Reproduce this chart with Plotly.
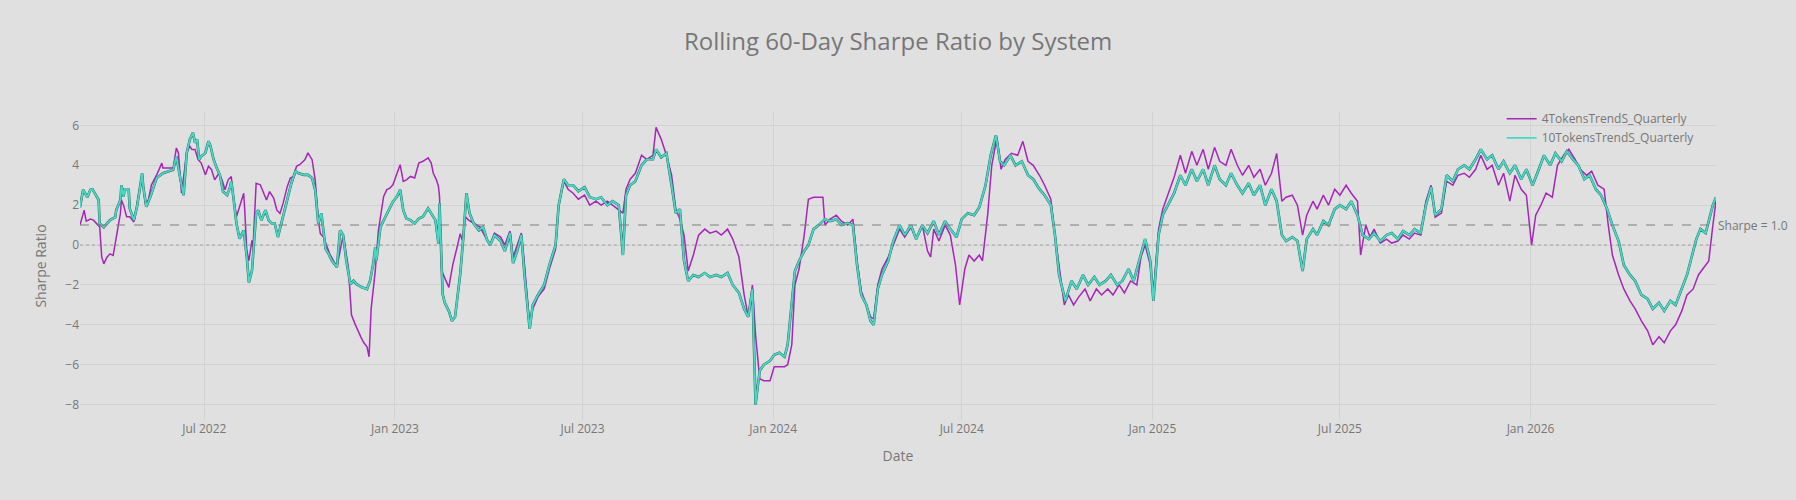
import pandas as pd
import plotly.graph_objects as go

BASE_DATE = "2022-03-03"

# 4TokensTrendS_Quarterly : day offset from BASE_DATE, rolling Sharpe value
days_4tok = [0, 4, 6, 10, 13, 16, 19, 21, 23, 26, 29, 32, 35, 37, 39, 40, 42, 45, 48, 52, 55, 58, 60, 63,
             66, 69, 74, 79, 80, 85, 90, 93, 95, 98, 103, 106, 108, 111, 114, 117, 121, 124, 127, 130,
             134, 137, 140, 143, 146, 148, 151, 154, 158, 159, 161, 163, 166, 167, 170, 174, 177, 180,
             183, 187, 190, 193, 196, 200, 203, 206, 209, 212, 217, 220, 224, 227, 230, 232, 235, 241,
             248, 254, 259, 262, 265, 268, 271, 274, 277, 279, 281, 285, 288, 293, 296, 299, 302, 306,
             309, 312, 315, 319, 323, 327, 331, 336, 339, 341, 344, 346, 347, 349, 352, 356, 357, 360,
             364, 367, 369, 372, 375, 380, 386, 393, 396, 400, 406, 410, 415, 418, 422, 426, 429, 434,
             437, 442, 448, 453, 459, 462, 467, 471, 476, 481, 487, 492, 498, 503, 509, 514, 520, 524,
             527, 531, 536, 542, 547, 553, 556, 561, 566, 571, 575, 579, 583, 587, 592, 597, 603, 608,
             614, 619, 625, 630, 636, 641, 645, 649, 652, 656, 660, 666, 670, 675, 680, 683, 687, 690,
             694, 699, 703, 708, 713, 717, 719, 724, 730, 735, 741, 746, 750, 754, 759, 763, 766, 770,
             774, 780, 785, 791, 796, 802, 807, 813, 818, 821, 824, 829, 835, 840, 845, 849, 854, 858,
             863, 868, 871, 876, 880, 885, 889, 893, 899, 905, 910, 915, 920, 926, 931, 937, 941, 945,
             950, 954, 959, 964, 970, 975, 981, 986, 992, 997, 1003, 1008, 1014, 1020, 1024, 1028, 1033,
             1036, 1041, 1045, 1050, 1056, 1062, 1067, 1073, 1078, 1084, 1089, 1095, 1100, 1106, 1111,
             1117, 1122, 1128, 1133, 1139, 1144, 1150, 1155, 1160, 1164, 1170, 1175, 1180, 1184, 1190,
             1194, 1200, 1205, 1211, 1216, 1222, 1227, 1233, 1236, 1241, 1245, 1249, 1255, 1261, 1266,
             1272, 1277, 1283, 1288, 1294, 1299, 1304, 1308, 1314, 1319, 1325, 1330, 1336, 1341, 1347,
             1352, 1358, 1363, 1369, 1374, 1380, 1385, 1391, 1396, 1401, 1405, 1410, 1415, 1421, 1426,
             1432, 1437, 1443, 1448, 1454, 1459, 1465, 1471, 1475, 1479, 1485, 1490, 1496, 1501, 1507,
             1513, 1518, 1524, 1529, 1535, 1540, 1546, 1551, 1557, 1562, 1568, 1572, 1576, 1579]
vals_4tok = [1.0, 1.75, 1.2, 1.3, 1.25, 1.08, 0.91, -0.61, -0.94, -0.61, -0.44, -0.52, 0.4, 1.16, 1.59,
             2.26, 2.0, 1.42, 1.42, 1.16, 2.09, 2.93, 3.52, 2.09, 2.26, 3.02, 3.52, 4.11, 3.86, 3.86,
             3.86, 4.87, 4.62, 2.6, 4.62, 4.96, 4.79, 4.79, 4.28, 4.11, 3.52, 3.95, 3.78, 3.27, 3.6,
             3.27, 2.77, 3.27, 3.44, 2.43, 1.42, 1.92, 2.6, 1.75, -0.27, -0.78, 0.24, -0.1, 3.1, 3.02,
             2.6, 2.26, 2.68, 2.34, 1.75, 1.59, 2.09, 2.93, 3.36, 3.44, 3.95, 4.03, 4.28, 4.62, 4.28,
             3.27, 1.25, 0.57, 0.4, -0.44, -1.11, 0.49, -1.11, -3.5, -3.9, -4.3, -4.6, -4.9, -5.1,
             -5.6, -3.2, -1.28, 0.74, 2.43, 2.77, 2.85, 3.02, 3.6, 4.03, 3.19, 3.27, 3.44, 3.36, 4.11,
             4.2, 4.37, 4.11, 3.6, 3.27, 2.93, 2.43, -1.28, -1.62, -2.12, -1.79, -0.94, -0.1, 0.57,
             0.24, 1.42, 1.25, 1.08, 0.91, 0.24, 0.0, 0.6, 0.4, 0.0, 0.7, -0.6, 0.0, 0.6, -1.0, -4.0,
             -3.2, -2.6, -2.2, -1.2, -0.2, 2.0, 3.2, 2.8, 2.6, 2.3, 2.5, 2.0, 2.2, 2.0, 2.2, 2.0, 1.8,
             1.6, 2.8, 3.3, 3.6, 4.5, 4.3, 4.5, 5.9, 5.3, 4.5, 3.5, 1.8, 1.3, 0.5, -1.3, -0.5, 0.5,
             0.8, 0.6, 0.7, 0.5, 0.8, 0.3, -0.6, -2.5, -3.6, -2.0, -4.5, -6.7, -6.8, -6.8, -6.1, -6.1,
             -6.1, -6.0, -5.0, -2.0, -1.2, 0.5, 2.3, 2.4, 2.4, 2.4, 1.0, 1.3, 1.5, 1.2, 1.0, 1.3, -0.8,
             -2.3, -3.0, -3.6, -3.7, -2.0, -1.2, -0.6, 0.0, 0.8, 0.4, 0.9, 0.3, 1.0, -0.3, -0.6, 0.8,
             0.2, 1.0, 0.5, -1.0, -3.0, -1.2, -0.5, -0.8, -0.5, -0.8, 1.5, 4.0, 5.4, 3.8, 4.3, 4.6,
             4.5, 5.2, 4.2, 4.0, 3.5, 3.0, 2.3, 0.5, -1.0, -3.0, -2.5, -3.0, -2.6, -2.2, -2.8, -2.2,
             -2.5, -2.2, -2.5, -2.0, -2.4, -1.8, -2.0, -0.6, 0.0, -1.0, -2.5, 0.8, 1.8, 2.5, 3.4, 4.5,
             3.6, 4.7, 4.0, 4.8, 3.8, 4.9, 4.2, 4.0, 4.8, 4.0, 3.5, 4.0, 3.4, 3.8, 3.0, 3.6, 4.6, 2.2,
             2.4, 2.5, 2.0, 0.5, 1.5, 2.2, 1.8, 2.5, 2.0, 2.8, 2.5, 3.0, 2.6, 2.2, -0.5, 1.0, 0.4, 0.8,
             0.1, 0.3, 0.1, 0.2, 0.5, 0.3, 0.6, 0.5, 2.2, 3.0, 1.4, 1.6, 3.2, 3.0, 3.5, 3.6, 3.4, 3.8,
             4.5, 3.8, 4.0, 3.0, 3.6, 2.2, 3.5, 2.8, 2.5, 0.0, 1.5, 2.0, 2.6, 2.4, 4.0, 4.5, 4.8, 4.3,
             3.8, 3.5, 3.7, 3.0, 2.8, 1.0, -0.5, -1.5, -2.2, -2.8, -3.2, -3.8, -4.3, -5.0, -4.6, -4.9,
             -4.3, -4.0, -3.3, -2.5, -2.2, -1.5, -1.1, -0.8, 1.0, 2.2]

# 10TokensTrendS_Quarterly : day offset from BASE_DATE, rolling Sharpe value
days_10tok = [0, 3, 7, 10, 12, 15, 18, 19, 23, 29, 34, 35, 39, 40, 42, 43, 47, 48, 52, 55, 58, 60, 61,
              64, 68, 71, 74, 80, 87, 90, 93, 95, 97, 100, 103, 106, 109, 111, 113, 115, 117, 121, 124,
              126, 129, 132, 135, 138, 142, 145, 146, 148, 151, 154, 158, 161, 163, 166, 167, 170, 172,
              175, 179, 182, 185, 188, 191, 195, 198, 201, 204, 208, 211, 216, 220, 224, 227, 230, 233,
              237, 240, 243, 248, 251, 254, 257, 261, 264, 267, 272, 277, 280, 283, 285, 286, 290, 293,
              296, 299, 302, 306, 309, 312, 315, 319, 323, 327, 331, 336, 339, 343, 346, 347, 350, 352,
              356, 359, 362, 364, 367, 370, 373, 376, 380, 385, 389, 393, 396, 400, 406, 410, 415, 418,
              422, 426, 429, 434, 437, 442, 448, 453, 459, 462, 467, 471, 476, 481, 487, 492, 498, 503,
              509, 514, 520, 524, 527, 531, 536, 542, 547, 553, 556, 561, 566, 571, 575, 579, 583, 587,
              592, 597, 603, 608, 614, 619, 625, 630, 636, 641, 645, 649, 652, 656, 660, 666, 670, 675,
              680, 683, 687, 690, 694, 699, 703, 708, 713, 719, 724, 730, 735, 741, 746, 750, 754, 759,
              763, 766, 770, 774, 780, 785, 791, 796, 802, 807, 813, 818, 824, 829, 835, 840, 846, 851,
              857, 863, 868, 874, 879, 884, 888, 892, 898, 903, 909, 915, 920, 926, 931, 937, 941, 945,
              951, 957, 962, 968, 973, 979, 984, 990, 995, 1001, 1006, 1012, 1017, 1023, 1028, 1033,
              1036, 1041, 1045, 1050, 1056, 1062, 1067, 1073, 1078, 1084, 1089, 1095, 1100, 1106, 1111,
              1117, 1122, 1128, 1133, 1139, 1144, 1150, 1155, 1160, 1164, 1170, 1175, 1180, 1184, 1190,
              1194, 1200, 1205, 1211, 1216, 1222, 1227, 1233, 1238, 1244, 1249, 1255, 1261, 1266, 1272,
              1277, 1283, 1288, 1294, 1299, 1304, 1308, 1314, 1319, 1325, 1330, 1336, 1341, 1347, 1352,
              1358, 1363, 1369, 1374, 1380, 1385, 1391, 1396, 1402, 1408, 1413, 1419, 1424, 1430, 1435,
              1441, 1446, 1452, 1457, 1463, 1468, 1474, 1479, 1485, 1490, 1496, 1501, 1507, 1513, 1518,
              1524, 1529, 1535, 1540, 1546, 1551, 1556, 1560, 1564, 1569, 1572, 1576, 1579]
vals_10tok = [1.9, 2.77, 2.4, 2.77, 2.8, 2.5, 2.26, 1.08, 0.9, 1.25, 1.4, 1.75, 2.26, 3.0, 2.43, 2.77,
              2.77, 1.84, 1.25, 1.92, 2.93, 3.6, 2.93, 1.92, 2.43, 2.93, 3.36, 3.6, 3.7, 3.78, 4.45,
              3.95, 3.27, 2.5, 4.62, 5.3, 5.63, 5.13, 5.3, 4.28, 4.45, 4.62, 5.21, 4.96, 4.28, 3.86,
              3.52, 2.68, 2.51, 2.93, 3.19, 2.43, 1.08, 0.32, 0.74, -0.61, -1.87, -1.28, -0.44, 1.59,
              1.75, 1.25, 1.75, 1.25, 1.08, 1.08, 0.4, 1.25, 1.92, 2.43, 3.1, 3.7, 3.6, 3.52, 3.52,
              3.36, 2.77, 1.08, 1.59, -0.19, -0.44, -0.78, -1.11, 0.74, 0.49, -0.78, -1.96, -1.79,
              -1.96, -2.12, -2.21, -1.79, -0.94, -0.1, -0.78, 0.91, 1.25, 1.59, 1.92, 2.18, 2.43, 2.77,
              1.75, 1.33, 1.25, 1.08, 1.33, 1.42, 1.84, 1.59, 1.25, 0.07, 2.09, -2.46, -2.88, -3.31,
              -3.8, -3.6, -2.8, -1.45, 0.4, 2.6, 1.59, 1.08, 0.74, 0.91, 0.24, 0.0, 0.5, 0.2, -0.3, 0.6,
              -0.9, -0.3, 0.5, -1.5, -4.2, -3.0, -2.5, -2.0, -1.0, 0.0, 2.0, 3.3, 3.0, 3.0, 2.7, 2.9,
              2.4, 2.3, 2.4, 2.0, 2.2, 2.0, -0.5, 2.5, 3.0, 3.2, 4.0, 4.3, 4.3, 4.8, 4.4, 4.6, 3.0,
              1.6, 1.8, -0.8, -1.8, -1.5, -1.6, -1.4, -1.6, -1.5, -1.6, -1.4, -2.0, -2.4, -3.2, -3.6,
              -2.2, -8.0, -6.3, -6.0, -5.8, -5.5, -5.4, -5.6, -5.0, -3.0, -1.3, -0.8, -0.3, 0.0, 0.8,
              1.0, 1.3, 1.2, 1.3, 1.0, 1.1, 1.0, -1.0, -2.5, -3.0, -3.8, -4.0, -2.2, -1.5, -0.8, 0.2,
              1.0, 0.5, 1.0, 0.3, 1.0, 0.6, 1.2, 0.5, 1.2, 0.8, 0.4, 1.3, 1.6, 1.5, 1.9, 3.0, 4.5,
              5.5, 4.2, 4.0, 4.5, 4.0, 4.2, 3.5, 3.3, 2.8, 2.5, 2.0, 0.5, -1.5, -2.8, -1.8, -2.2, -1.5,
              -2.0, -1.6, -2.0, -1.8, -1.5, -2.0, -1.8, -1.2, -1.8, -0.6, 0.3, -0.8, -2.8, 0.5, 1.5,
              2.0, 2.6, 3.5, 3.0, 3.8, 3.2, 3.8, 3.0, 4.0, 3.3, 3.0, 3.6, 3.0, 2.6, 3.1, 2.5, 3.0,
              2.0, 2.8, 2.2, 0.5, 0.2, 0.4, 0.2, -1.3, 0.3, 0.8, 0.5, 1.2, 1.0, 1.8, 2.0, 1.8, 2.2,
              1.5, 0.5, 0.3, 0.6, 0.2, 0.5, 0.6, 0.3, 0.7, 0.5, 0.8, 0.6, 2.0, 2.9, 1.5, 1.8, 3.5,
              3.2, 3.8, 4.0, 3.8, 4.3, 4.8, 4.3, 4.5, 3.8, 4.2, 3.6, 4.0, 3.3, 3.8, 3.0, 3.8, 4.5,
              4.0, 4.6, 4.2, 4.7, 4.3, 4.0, 3.3, 3.5, 2.8, 2.5, 1.8, 1.0, 0.2, -1.0, -1.5, -1.8, -2.5,
              -2.7, -3.2, -2.9, -3.3, -2.8, -3.0, -2.2, -1.5, -0.5, 0.3, 0.8, 0.6, 1.2, 2.0, 2.4]

NAME_4 = "4TokensTrendS_Quarterly"
NAME_10 = "10TokensTrendS_Quarterly"
TITLE = "Rolling 60-Day Sharpe Ratio by System"

base = pd.Timestamp(BASE_DATE)
x4 = base + pd.to_timedelta(days_4tok, unit="D")
x10 = base + pd.to_timedelta(days_10tok, unit="D")

BG = "#e0e0e0"
TXT = "#777777"
PURPLE = "#a526b9"
TEAL = "#48d9c6"
TEAL_EDGE = "#2a6a60"

fig = go.Figure()
fig.add_trace(go.Scatter(x=x4, y=vals_4tok, mode="lines", name=NAME_4,
                         line=dict(color=PURPLE, width=1.5)))
fig.add_trace(go.Scatter(x=x10, y=vals_10tok, mode="lines", name=NAME_10,
                         showlegend=False, hoverinfo="skip",
                         line=dict(color=TEAL_EDGE, width=2.6)))
fig.add_trace(go.Scatter(x=x10, y=vals_10tok, mode="lines", name=NAME_10,
                         line=dict(color=TEAL, width=1.8)))

fig.add_hline(y=1, line_dash="dash", line_color="gray", line_width=2, opacity=0.5,
              annotation_text="Sharpe = 1.0", annotation_position="right",
              annotation_font=dict(size=12, color=TXT))
fig.add_hline(y=0, line_dash="dot", line_color="gray", line_width=2, opacity=0.3)

fig.update_layout(
    width=1796, height=500,
    paper_bgcolor=BG, plot_bgcolor=BG,
    font=dict(family='"Open Sans", verdana, arial, sans-serif', size=12, color=TXT),
    title=dict(text=TITLE, x=0.5, xanchor="center", y=0.917, yanchor="middle",
               yref="container", font=dict(size=24, color=TXT)),
    margin=dict(l=80, r=80, t=112, b=80),
    showlegend=True,
    legend=dict(x=0.99, xanchor="right", y=1.025, yanchor="top", tracegroupgap=0,
                bgcolor="rgba(0,0,0,0)", font=dict(size=12, color=TXT)),
    xaxis=dict(title=dict(text="Date", font=dict(size=14, color=TXT)),
               showgrid=True, gridcolor="#d2d2d2", zeroline=False, showline=False,
               tickfont=dict(color=TXT)),
    yaxis=dict(title=dict(text="Sharpe Ratio", font=dict(size=14, color=TXT)),
               showgrid=True, gridcolor="#d2d2d2", zeroline=False, showline=False,
               tickfont=dict(color=TXT)),
)

fig.write_html("out.html")
